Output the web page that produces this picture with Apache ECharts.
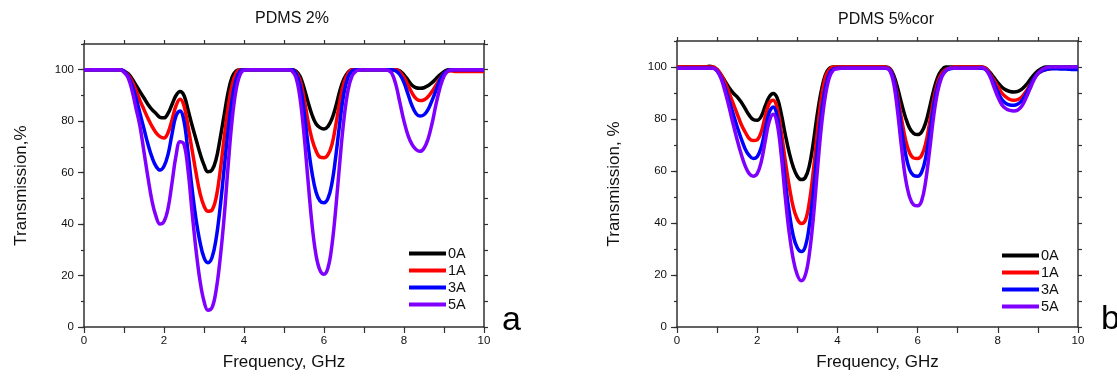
<!DOCTYPE html>
<html>
<head>
<meta charset="utf-8">
<script src="https://cdn.jsdelivr.net/npm/echarts@6/dist/echarts.min.js"></script>
<style>
html,body{margin:0;padding:0;background:#fff;}
#c{width:1117px;height:376px;}
</style>
</head>
<body>
<div id="c"></div>
<script>
// Frequency grid, GHz
const freq = [
0.0,0.1,0.2,0.3,0.4,0.5,0.6,0.7,0.8,0.9,
1.0,1.1,1.2,1.3,1.4,1.5,1.6,1.7,1.8,1.9,
2.0,2.1,2.2,2.3,2.4,2.5,2.6,2.7,2.8,2.9,
3.0,3.1,3.2,3.3,3.4,3.5,3.6,3.7,3.8,3.9,
4.0,4.1,4.2,4.3,4.4,4.5,4.6,4.7,4.8,4.9,
5.0,5.1,5.2,5.3,5.4,5.5,5.6,5.7,5.8,5.9,
6.0,6.1,6.2,6.3,6.4,6.5,6.6,6.7,6.8,6.9,
7.0,7.1,7.2,7.3,7.4,7.5,7.6,7.7,7.8,7.9,
8.0,8.1,8.2,8.3,8.4,8.5,8.6,8.7,8.8,8.9,
9.0,9.1,9.2,9.3,9.4,9.5,9.6,9.7,9.8,9.9,
10.0];

const seriesNames = ['0A','1A','3A','5A'];
const seriesColors = ['#000000','#ff0000','#0000ff','#8000ff'];
const titleA = 'PDMS 2%';
const titleB = 'PDMS 5%cor';
const yNameA = 'Transmission,%';
const yNameB = 'Transmission, %';
const xName = 'Frequency, GHz';
const xTicks = [0,2,4,6,8,10];
const yTicks = [0,20,40,60,80,100];

// Panel a: PDMS 2%
const a_0A = [
100,100,100,100,100,100,100,100,100,100,
99.5,98.5,96.5,94,91.5,89,86.5,84.5,83,81.5,
81.3,83,86.5,90,91.5,90,84.5,78.5,73,67.5,
63,60.3,61,65,73,82,91,97,99.5,100,
100,100,100,100,100,100,100,100,100,100,
100,100,100,99.5,97.5,93,87.5,82.5,79,77.5,
77,78,81,86,92,96.5,99,100,100,100,
100,100,100,100,100,100,100,100,100,99.5,
98,96,94,93,92.8,93,93.8,95,96.5,98,
99.2,100,100,100,100,100,100,100,100,100,
100];
const a_1A = [
100,100,100,100,100,100,100,100,100,100,
99.5,98,95.5,92,88,84.5,81,78,75.5,74,
73.5,75.5,80.5,86,88.5,86,78,69,60,52,
47,45,45.5,50,60,73,85,94,98.5,100,
100,100,100,100,100,100,100,100,100,100,
100,100,100,99,96,89,80,73,68.5,66,
65.8,67,71,79,88,95,98.5,100,100,100,
100,100,100,100,100,100,100,100,100,99,
97,94,91,88.8,88,88.3,89.5,91.5,94,96.5,
98.5,99.5,99.5,99.3,99.3,99.3,99.3,99.3,99.3,99.3,
99.3];
const a_3A = [
100,100,100,100,100,100,100,100,100,100,
99.5,97.5,94,89,83,77,71,66,62.5,61,
62.5,67,75,82,84,80,68,54,42,33,
27,25,27,34,46,61,76,88,96,99.5,
100,100,100,100,100,100,100,100,100,100,
100,100,100,98.5,94,84,71,60,52.5,49,
48.3,50,56,67,80,91,97,99.5,100,100,
100,100,100,100,100,100,100,100,99.5,98,
95,90.5,86,83,82,82.5,84.5,88,92,96,
98.5,99.7,100,100,100,100,100,100,100,100,
100];
const a_5A = [
100,100,100,100,100,100,100,100,100,100,
99,97,92,85,78,68,58,49,43,40,
41,46,56,66.5,72,71,61,45,30,18,
10,6.5,7.5,14,26,42,62,80,92,98,
99.8,100,100,100,100,100,100,100,100,100,
100,100,99.5,97,89,75,57,40,28,22,
20.5,23,32,47,65,81,92,97.5,99.5,100,
100,100,100,100,100,100,99.8,98.5,94,87,
80,74.5,71,69,68.3,69.5,73,79,86.5,93,
97.5,99.5,100,100,100,100,100,100,100,100,
100];

// Panel b: PDMS 5%cor
const b_0A = [
100,100,100,100,100,100,100,100,100.3,100,
99,97,94.5,92,90,88.5,86.5,84,81.5,79.8,
79.5,81,85,88.5,89.8,88,82,74,67,61.5,
58,56.7,57.5,62,71,82,91,97,99.5,100,
100,100,100,100,100,100,100,100,100,100,
100,100,100,99.5,97,92,86,80.5,76.5,74.5,
74,75,78.5,84.5,91,96,98.8,100,100,100,
100,100,100,100,100,100,100,99.5,98,96,
94,92.3,91.2,90.6,90.4,90.6,91.5,93,95,97,
98.5,99.5,100,100,100,100,100,100,100,100,
100];
const b_1A = [
100,100,100,100,100,100,100,100,100,100,
99,97,94,90,86,82,78,75,72.5,71.7,
72,75,81,86,87.2,84,75,64,54,46,
41.5,39.8,41,48,60,75,88,96,99,100,
100,100,100,100,100,100,100,100,100,100,
100,100,100,99.3,96,89,80,72,67,65,
64.8,66,70.5,78.5,87.5,94,97.5,99,99.5,100,
100,100,100,100,100,100,100,99.5,97.5,95,
92.5,90,88.5,87.5,87.2,87.5,88.5,90.5,93,95.5,
97.5,98.5,99,99.3,99.5,99.5,99.5,99.5,99.5,99.5,
99.5];
const b_3A = [
99.5,99.5,99.5,99.5,99.5,99.5,99.5,99.5,99.5,99.5,
98.5,96,92,87,82,77,72.5,68.5,66,64.8,
65.5,69,76,82.5,84.6,81,70,56,44,35,
30.5,29,31,39,52,68,82,92,97.5,99.2,
99.5,99.5,99.5,99.5,99.5,99.5,99.5,99.5,99.5,99.5,
99.5,99.5,99.5,99,95.5,87,76,66.5,60.5,58.3,
58,59.5,65,74.5,85,92.5,96.5,98.5,99.3,99.5,
99.5,99.5,99.5,99.5,99.5,99.5,99.5,99,97,94,
90.5,87.5,86,85.4,85.3,85.8,87,89.5,92.5,95.5,
97.5,98.5,99,99.3,99.3,99.3,99.2,99.2,99.1,99,
99];
const b_5A = [
99.5,99.5,99.5,99.5,99.5,99.5,99.5,99.5,99.5,99.5,
98.5,95.5,90.5,84.5,78,72,66.5,62,59,58,
59,63.5,71.5,79,81.8,78,66,50,36,26,
20,17.8,20,28,42,60,77,89,96,98.8,
99.3,99.5,99.5,99.5,99.5,99.5,99.5,99.5,99.5,99.5,
99.5,99.5,99.5,98.8,94,83,69,57,50,47,
46.6,48.5,56,68,81,90.5,96,98.5,99.5,99.5,
99.5,99.5,99.5,99.5,99.5,99.5,99.8,99,96.5,92.5,
88.5,85.5,84,83.3,83.1,83.5,85,88,91.5,95,
97.5,99,99.7,100,100,100,100,100,100,100,
100];

const panelA = [a_0A, a_1A, a_3A, a_5A];
const panelB = [b_0A, b_1A, b_3A, b_5A];

const FONT = 'Liberation Sans, Arial, sans-serif';
const axisColor = '#303030';
const textColor = '#111';

function pairs(vals){ return freq.map((f,i)=>[f, vals[i]]); }

function xAxes(gi){
  return [
    { gridIndex: gi, type:'value', min:0, max:10, interval:1, position:'bottom',
      name: xName, nameLocation:'middle', nameGap: 27,
      nameTextStyle:{fontFamily:FONT, fontSize:17, color:textColor},
      axisLine:{show:true, onZero:false, lineStyle:{color:axisColor, width:1.5}},
      axisTick:{show:true, length:6, lineStyle:{color:axisColor, width:1.2}},
      axisLabel:{show:true, margin:8, fontFamily:FONT, fontSize:11.5, color:textColor,
        formatter: v => xTicks.includes(v) ? String(v) : ''},
      splitLine:{show:false} },
    { gridIndex: gi, type:'value', min:0, max:10, interval:1, position:'top',
      axisLine:{show:true, onZero:false, lineStyle:{color:axisColor, width:1.5}},
      axisTick:{show:true, length:4, lineStyle:{color:axisColor, width:1.2}},
      axisLabel:{show:false}, splitLine:{show:false} }
  ];
}
function yAxes(gi, name){
  return [
    { gridIndex: gi, type:'value', min:0, max:110, interval:10, position:'left',
      name: name, nameLocation:'middle', nameGap: 54, nameRotate: 90,
      nameTextStyle:{fontFamily:FONT, fontSize:17, color:textColor},
      axisLine:{show:true, onZero:false, lineStyle:{color:axisColor, width:1.5}},
      axisTick:{show:true, length:6, lineStyle:{color:axisColor, width:1.2},
        customValues: yTicks},
      minorTick:{show:false},
      axisLabel:{show:true, margin:10, fontFamily:FONT, fontSize:11.5, color:textColor,
        customValues: yTicks},
      splitLine:{show:false} },
    { gridIndex: gi, type:'value', min:0, max:110, interval:10, position:'left',
      axisLine:{show:false},
      axisTick:{show:true, length:3, lineStyle:{color:axisColor, width:1.2}},
      axisLabel:{show:false}, splitLine:{show:false} },
    { gridIndex: gi, type:'value', min:0, max:110, interval:10, position:'right',
      axisLine:{show:true, onZero:false, lineStyle:{color:axisColor, width:1.5}},
      axisTick:{show:true, length:4, lineStyle:{color:axisColor, width:1.2}},
      axisLabel:{show:false}, splitLine:{show:false} }
  ];
}

const series = [];
[panelA, panelB].forEach((panel, gi) => {
  panel.forEach((vals, k) => {
    series.push({
      name: seriesNames[k], type:'line',
      xAxisIndex: gi*2, yAxisIndex: gi*3,
      data: pairs(vals), smooth: 0.4, showSymbol:false, symbol:'none',
      lineStyle:{color: seriesColors[k], width:3.5},
      itemStyle:{color: seriesColors[k]},
      animation:false, z: 2 + k
    });
  });
});

function legendFor(left, top){
  return {
    orient:'vertical', left:left, top:top, itemGap:0,
    itemWidth:37, itemHeight:4, icon:'rect',
    data: seriesNames,
    textStyle:{fontFamily:FONT, fontSize:14.5, color:textColor, lineHeight:17, padding:[0,0,0,-3]},
    selectedMode:false
  };
}

const chart = echarts.init(document.getElementById('c'), null, {renderer:'canvas'});
chart.setOption({
  animation:false,
  backgroundColor:'#fff',
  title:[
    {text:titleA, left:287, top:6, textAlign:'center',
     textStyle:{fontFamily:FONT, fontSize:16, fontWeight:'normal', color:textColor}},
    {text:titleB, left:881, top:7, textAlign:'center',
     textStyle:{fontFamily:FONT, fontSize:16, fontWeight:'normal', color:textColor}}
  ],
  grid:[
    {left:84, width:400, top:44, height:284},
    {left:677, width:401, top:41, height:286}
  ],
  xAxis: [...xAxes(0), ...xAxes(1)],
  yAxis: [...yAxes(0, yNameA), ...yAxes(1, yNameB)],
  legend:[legendFor(404, 240), legendFor(997, 242)],
  series: series,
  graphic:[
    {type:'text', left:502, top:304, style:{text:'a', font:'34px '+FONT, fill:'#000'}},
    {type:'text', left:1101, top:303, style:{text:'b', font:'34px '+FONT, fill:'#000'}}
  ]
});
</script>
</body>
</html>
